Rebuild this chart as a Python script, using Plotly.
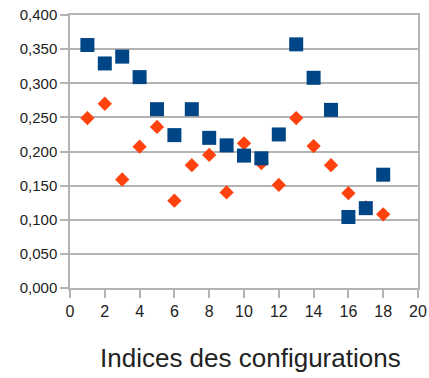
import plotly.graph_objects as go

# Configuration indices and the two measured series
indices = list(range(1, 19))
serie_bleue = [0.356, 0.329, 0.339, 0.309, 0.262, 0.224, 0.262, 0.220, 0.209,
               0.194, 0.190, 0.225, 0.357, 0.308, 0.261, 0.104, 0.117, 0.166]
serie_orange = [0.249, 0.270, 0.159, 0.207, 0.236, 0.128, 0.180, 0.195, 0.140,
                0.212, 0.183, 0.151, 0.249, 0.208, 0.180, 0.139, 0.118, 0.108]

y_ticks = [0, 0.05, 0.1, 0.15, 0.2, 0.25, 0.3, 0.35, 0.4]
y_labels = [f"{v:.3f}".replace(".", ",") for v in y_ticks]
x_ticks = list(range(0, 21, 2))

grid = "#b3b3b3"
font = "Liberation Sans, Arial, sans-serif"

fig = go.Figure()
# Orange diamonds first so the blue squares sit on top
fig.add_trace(go.Scatter(
    x=indices, y=serie_orange, mode="markers",
    marker=dict(symbol="diamond", size=11, color="#ff420e", line=dict(width=0)),
    showlegend=False, cliponaxis=False))
fig.add_trace(go.Scatter(
    x=indices, y=serie_bleue, mode="markers",
    marker=dict(symbol="square", size=14, color="#004586", line=dict(width=0)),
    showlegend=False, cliponaxis=False))

fig.update_layout(
    width=429, height=378,
    margin=dict(l=70, r=11, t=15, b=90),
    paper_bgcolor="white", plot_bgcolor="white",
    font=dict(family=font, size=15, color="#222222"),
    xaxis=dict(
        range=[0, 20], tickvals=x_ticks, showgrid=False, zeroline=False,
        showline=True, linecolor=grid, linewidth=1.5, mirror=True,
        ticks="outside", ticklen=8, tickcolor=grid, tickwidth=1.5,
        automargin=False, tickfont=dict(size=16),
    ),
    yaxis=dict(
        range=[0, 0.4], tickvals=y_ticks, ticktext=y_labels,
        showgrid=True, gridcolor=grid, gridwidth=1.5, zeroline=False,
        showline=True, linecolor=grid, linewidth=1.5, mirror=True,
        ticks="outside", ticklen=8, tickcolor=grid, tickwidth=1.5,
        automargin=False,
    ),
    annotations=[dict(
        text="Indices des configurations", xref="paper", yref="paper",
        x=0.519, y=-0.256, xanchor="center", yanchor="middle",
        showarrow=False, font=dict(family=font, size=26, color="#222222"),
    )],
)

fig.write_html("out.html")
